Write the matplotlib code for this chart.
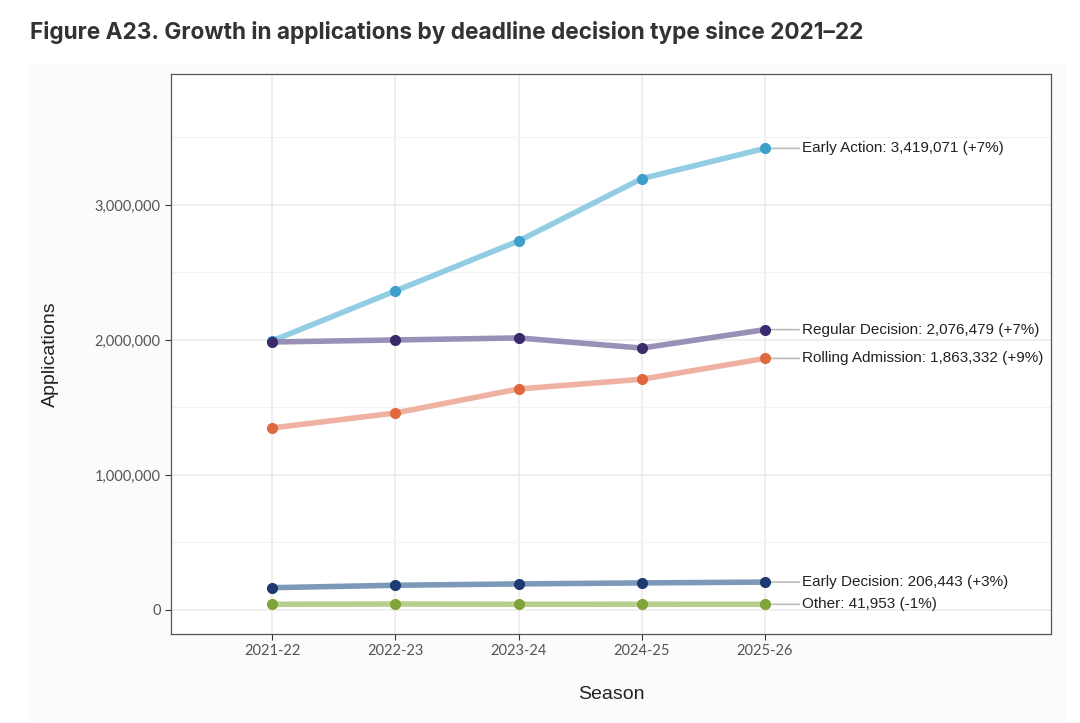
import numpy as np
import matplotlib.pyplot as plt
from matplotlib.ticker import FuncFormatter, MultipleLocator

seasons = ['2021-22', '2022-23', '2023-24', '2024-25', '2025-26']

early_action = [1993000, 2363000, 2733000, 3195000, 3419071]
regular_decision = [1985000, 2000000, 2015000, 1940000, 2076479]
rolling_admission = [1348000, 1459000, 1637000, 1709000, 1863332]
early_decision = [165000, 183000, 193000, 200400, 206443]
other = [42000, 44000, 42000, 42400, 41953]

labels = ['Early Action: 3,419,071 (+7%)',
          'Regular Decision: 2,076,479 (+7%)',
          'Rolling Admission: 1,863,332 (+9%)',
          'Early Decision: 206,443 (+3%)',
          'Other: 41,953 (-1%)']

series = [early_action, regular_decision, rolling_admission, early_decision, other]
line_colors = ['#93cde3', '#9890b6', '#efb1a2', '#7d99b9', '#b7cf8c']
dot_colors = ['#3d9fca', '#3a2a6c', '#e0683f', '#1d3a73', '#80a43a']

fig = plt.figure(figsize=(10.8, 7.23), dpi=100, facecolor='white')
# light backdrop behind the chart area
fig.patches.append(plt.Rectangle((0.026, 0), 0.96, 0.91, transform=fig.transFigure,
                                 color='#fbfbfb', zorder=-10))
ax = fig.add_axes([171 / 1080, 1 - 634 / 723, 880 / 1080, 560 / 723])
ax.set_facecolor('white')

x = np.arange(len(seasons))
for vals, lc, dc, lab in zip(series, line_colors, dot_colors, labels):
    ax.plot(x, vals, color=lc, lw=4, solid_capstyle='round', zorder=3)
    ax.plot(x, vals, 'o', color=dc, ms=7, zorder=4)
    ax.annotate(lab, xy=(x[-1], vals[-1]), xytext=(x[-1] + 0.3, vals[-1]),
                va='center', ha='left', fontsize=11, family='Liberation Sans',
                color='#222222',
                arrowprops=dict(arrowstyle='-', color='#bbbbbb', lw=1.2,
                                shrinkA=0, shrinkB=4))

ax.set_xlim(-0.82, 6.32)
ax.set_ylim(-178000, 3970000)
ax.set_xticks(x)
ax.set_xticklabels(seasons)
ax.yaxis.set_major_locator(MultipleLocator(1000000))
ax.yaxis.set_minor_locator(MultipleLocator(500000))
ax.yaxis.set_major_formatter(FuncFormatter(lambda v, p: f'{int(v):,}'))
ax.grid(True, which='major', color='#ebebeb', lw=1.1)
ax.grid(True, which='minor', axis='y', color='#f2f2f2', lw=0.8)
ax.tick_params(which='minor', length=0)
ax.tick_params(which='major', length=4, color='#333333', labelsize=10.5,
               labelcolor='#555555')
for lbl in ax.get_xticklabels() + ax.get_yticklabels():
    lbl.set_family('Lato')
for s in ax.spines.values():
    s.set_color('#555555')
    s.set_linewidth(0.9)

ax.set_xlabel('Season', fontsize=14, family='Liberation Sans', color='#222222',
              labelpad=20)
ax.set_ylabel('Applications', fontsize=14, family='Liberation Sans', color='#222222',
              labelpad=26)

fig.text(30 / 1080, 1 - 32 / 723,
         'Figure A23. Growth in applications by deadline decision type since 2021\u201322',
         fontsize=16.3, fontweight='bold', family='Inter', color='#333333', va='center')

plt.savefig('out.png', dpi=100)
